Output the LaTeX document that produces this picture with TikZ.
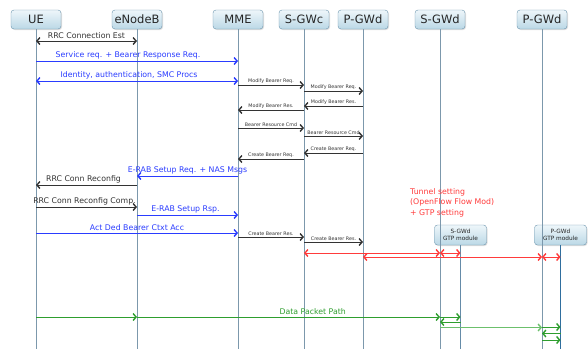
\documentclass[tikz,border=0pt]{standalone}
\usepackage{fontspec}
\setmainfont{DejaVu Sans}
\usetikzlibrary{arrows.meta,shadows}
\definecolor{lifec}{HTML}{7C98AC}
\definecolor{gtplife}{HTML}{2F6E9E}
\definecolor{boxdraw}{HTML}{6C95AE}
\definecolor{boxtop}{HTML}{EEF6FA}
\definecolor{boxbot}{HTML}{BBD8E6}
\definecolor{msgblue}{HTML}{2A3CFF}
\definecolor{msgblack}{HTML}{333333}
\definecolor{msgred}{HTML}{FF3B3B}
\definecolor{msggreen}{HTML}{2E9E2E}
\definecolor{msglgreen}{HTML}{6CC06C}
\newcommand\seqmsg[6]{\draw[#4] (#1 |- 0,#3) -- node[#6]{#5} (#2 |- 0,#3);}
\begin{document}
\begin{tikzpicture}[x=1pt,y=-1pt,
  hdr/.style={draw=boxdraw, rounded corners=3pt, top color=boxtop, bottom color=boxbot,
    minimum width=50pt, minimum height=19pt, inner sep=1pt, text=black!85,
    drop shadow={shadow xshift=1pt, shadow yshift=-1pt, opacity=0.25},
    font=\fontsize{11.5}{12}\selectfont},
  gtp/.style={draw=boxdraw, rounded corners=3pt, top color=boxtop, bottom color=boxbot,
    minimum width=52pt, minimum height=20pt, inner sep=1pt, align=center, text=black!85,
    drop shadow={shadow xshift=1pt, shadow yshift=-1pt, opacity=0.25},
    font=\fontsize{5.8}{6.5}\selectfont},
  life/.style={lifec, line width=0.8pt},
  one/.style={-{Straight Barb[length=3pt,width=7pt,line width=1.4pt]}},
  two/.style={{Straight Barb[length=3pt,width=7pt,line width=1.4pt]}-{Straight Barb[length=3pt,width=7pt,line width=1.4pt]}},
  blk/.style={msgblack, line width=0.7pt},
  blu/.style={msgblue, line width=0.7pt},
  red/.style={msgred, line width=0.7pt},
  grn/.style={msggreen, line width=0.7pt},
  lbl/.style={above, inner sep=2pt, font=\fontsize{7.8}{9}\selectfont},
  sml/.style={above, inner sep=1.5pt, font=\fontsize{4.8}{5}\selectfont, text=msgblack},
]
\useasboundingbox[fill=white] (0,0) rectangle (588,349);

% headers
\node[hdr] (ue)  at (36,19.5) {UE};
\node[hdr] (enb) at (137,19.5) {eNodeB};
\node[hdr] (mme) at (238,19.5) {MME};
\node[hdr] (sgwc) at (304,19.5) {S-GWc};
\node[hdr] (pgwd) at (363,19.5) {P-GWd};
\node[hdr] (sgwd) at (440,19.5) {S-GWd};
\node[hdr] (pgwd2) at (542,19.5) {P-GWd};
\node[gtp] (sgtp) at (460.5,235) {S-GWd\\GTP module};
\node[gtp] (pgtp) at (560.5,235) {P-GWd\\GTP module};

% lifelines
\foreach \n in {ue,enb,mme,sgwc,pgwd,sgwd,pgwd2}{\draw[life] (\n.south) -- (\n.south |- 0,349);}
\draw[life, draw=lifec!70!gtplife] (sgtp.south) -- (sgtp.south |- 0,349);
\draw[gtplife, line width=1pt] (pgtp.south) -- (pgtp.south |- 0,349);

% messages
\seqmsg{ue}{enb}{41}{blk,two}{RRC Connection Est}{lbl, text=msgblack}
\seqmsg{ue}{mme}{61}{blu,one}{Service req. + Bearer Response Req.}{lbl, text=msgblue, xshift=-9pt}
\seqmsg{ue}{mme}{81}{blu,two}{Identity, authentication, SMC Procs}{lbl, text=msgblue, xshift=-8pt}
\seqmsg{mme}{sgwc}{85}{blk,one}{Modify Bearer Req.}{sml}
\seqmsg{sgwc}{pgwd}{91}{blk,one}{Modify Bearer Req.}{sml}
\seqmsg{pgwd}{sgwc}{106}{blk,one}{Modify Bearer Res.}{sml}
\seqmsg{sgwc}{mme}{110}{blk,one}{Modify Bearer Res.}{sml}
\seqmsg{mme}{sgwc}{128}{blk,one}{Bearer Resource Cmd}{sml}
\seqmsg{sgwc}{pgwd}{136}{blk,one}{Bearer Resource Cmd}{sml}
\seqmsg{pgwd}{sgwc}{153}{blk,one}{Create Bearer Req.}{sml}
\seqmsg{sgwc}{mme}{159}{blk,one}{Create Bearer Req.}{sml}
\seqmsg{mme}{enb}{176}{blu,one}{E-RAB Setup Req. + NAS Msgs}{lbl, text=msgblue}
\seqmsg{enb}{ue}{185}{blk,one}{RRC Conn Reconfig}{lbl, text=msgblack, xshift=-3pt}
\seqmsg{ue}{enb}{207}{blk,one}{RRC Conn Reconfig Comp.}{lbl, text=msgblack, xshift=-2pt}
\seqmsg{enb}{mme}{215}{blu,one}{E-RAB Setup Rsp.}{lbl, text=msgblue, xshift=-2pt}
\seqmsg{ue}{mme}{233}{blu,one}{Act Ded Bearer Ctxt Acc}{lbl, text=msgblue}
\seqmsg{mme}{sgwc}{237}{blk,one}{Create Bearer Res.}{sml}
\seqmsg{sgwc}{pgwd}{242}{blk,one}{Create Bearer Res.}{sml}

% tunnel setting
\node[text=msgred, align=left, anchor=north west, inner sep=0pt,
  font=\fontsize{7.8}{10.5}\selectfont] (tun) at (410,188) {Tunnel setting\\(OpenFlow Flow Mod)\\+ GTP setting};
\seqmsg{sgwc}{sgwd}{253}{red,two}{}{}
\seqmsg{sgwd}{sgtp}{253}{red,two,line width=1pt}{}{}
\seqmsg{pgwd}{pgwd2}{257}{red,two}{}{}
\seqmsg{pgwd2}{pgtp}{257}{red,two,line width=1pt}{}{}

% data packet path
\seqmsg{ue}{enb}{317}{grn,one}{}{}
\seqmsg{enb}{sgwd}{317}{grn,one}{Data Packet Path}{lbl, text=msggreen, pos=0.58}
\seqmsg{sgwd}{sgtp}{317}{grn,one,line width=1pt}{}{}
\seqmsg{sgtp}{sgwd}{322}{grn,one,line width=1pt}{}{}
\seqmsg{sgwd}{pgwd2}{327.5}{msglgreen,line width=1pt,one}{}{}
\seqmsg{pgwd2}{pgtp}{327}{grn,one,line width=1pt}{}{}
\seqmsg{pgtp}{pgwd2}{333.5}{grn,one,line width=1pt}{}{}
\seqmsg{pgwd2}{pgtp}{340}{grn,one,line width=1pt}{}{}
\end{tikzpicture}
\end{document}
